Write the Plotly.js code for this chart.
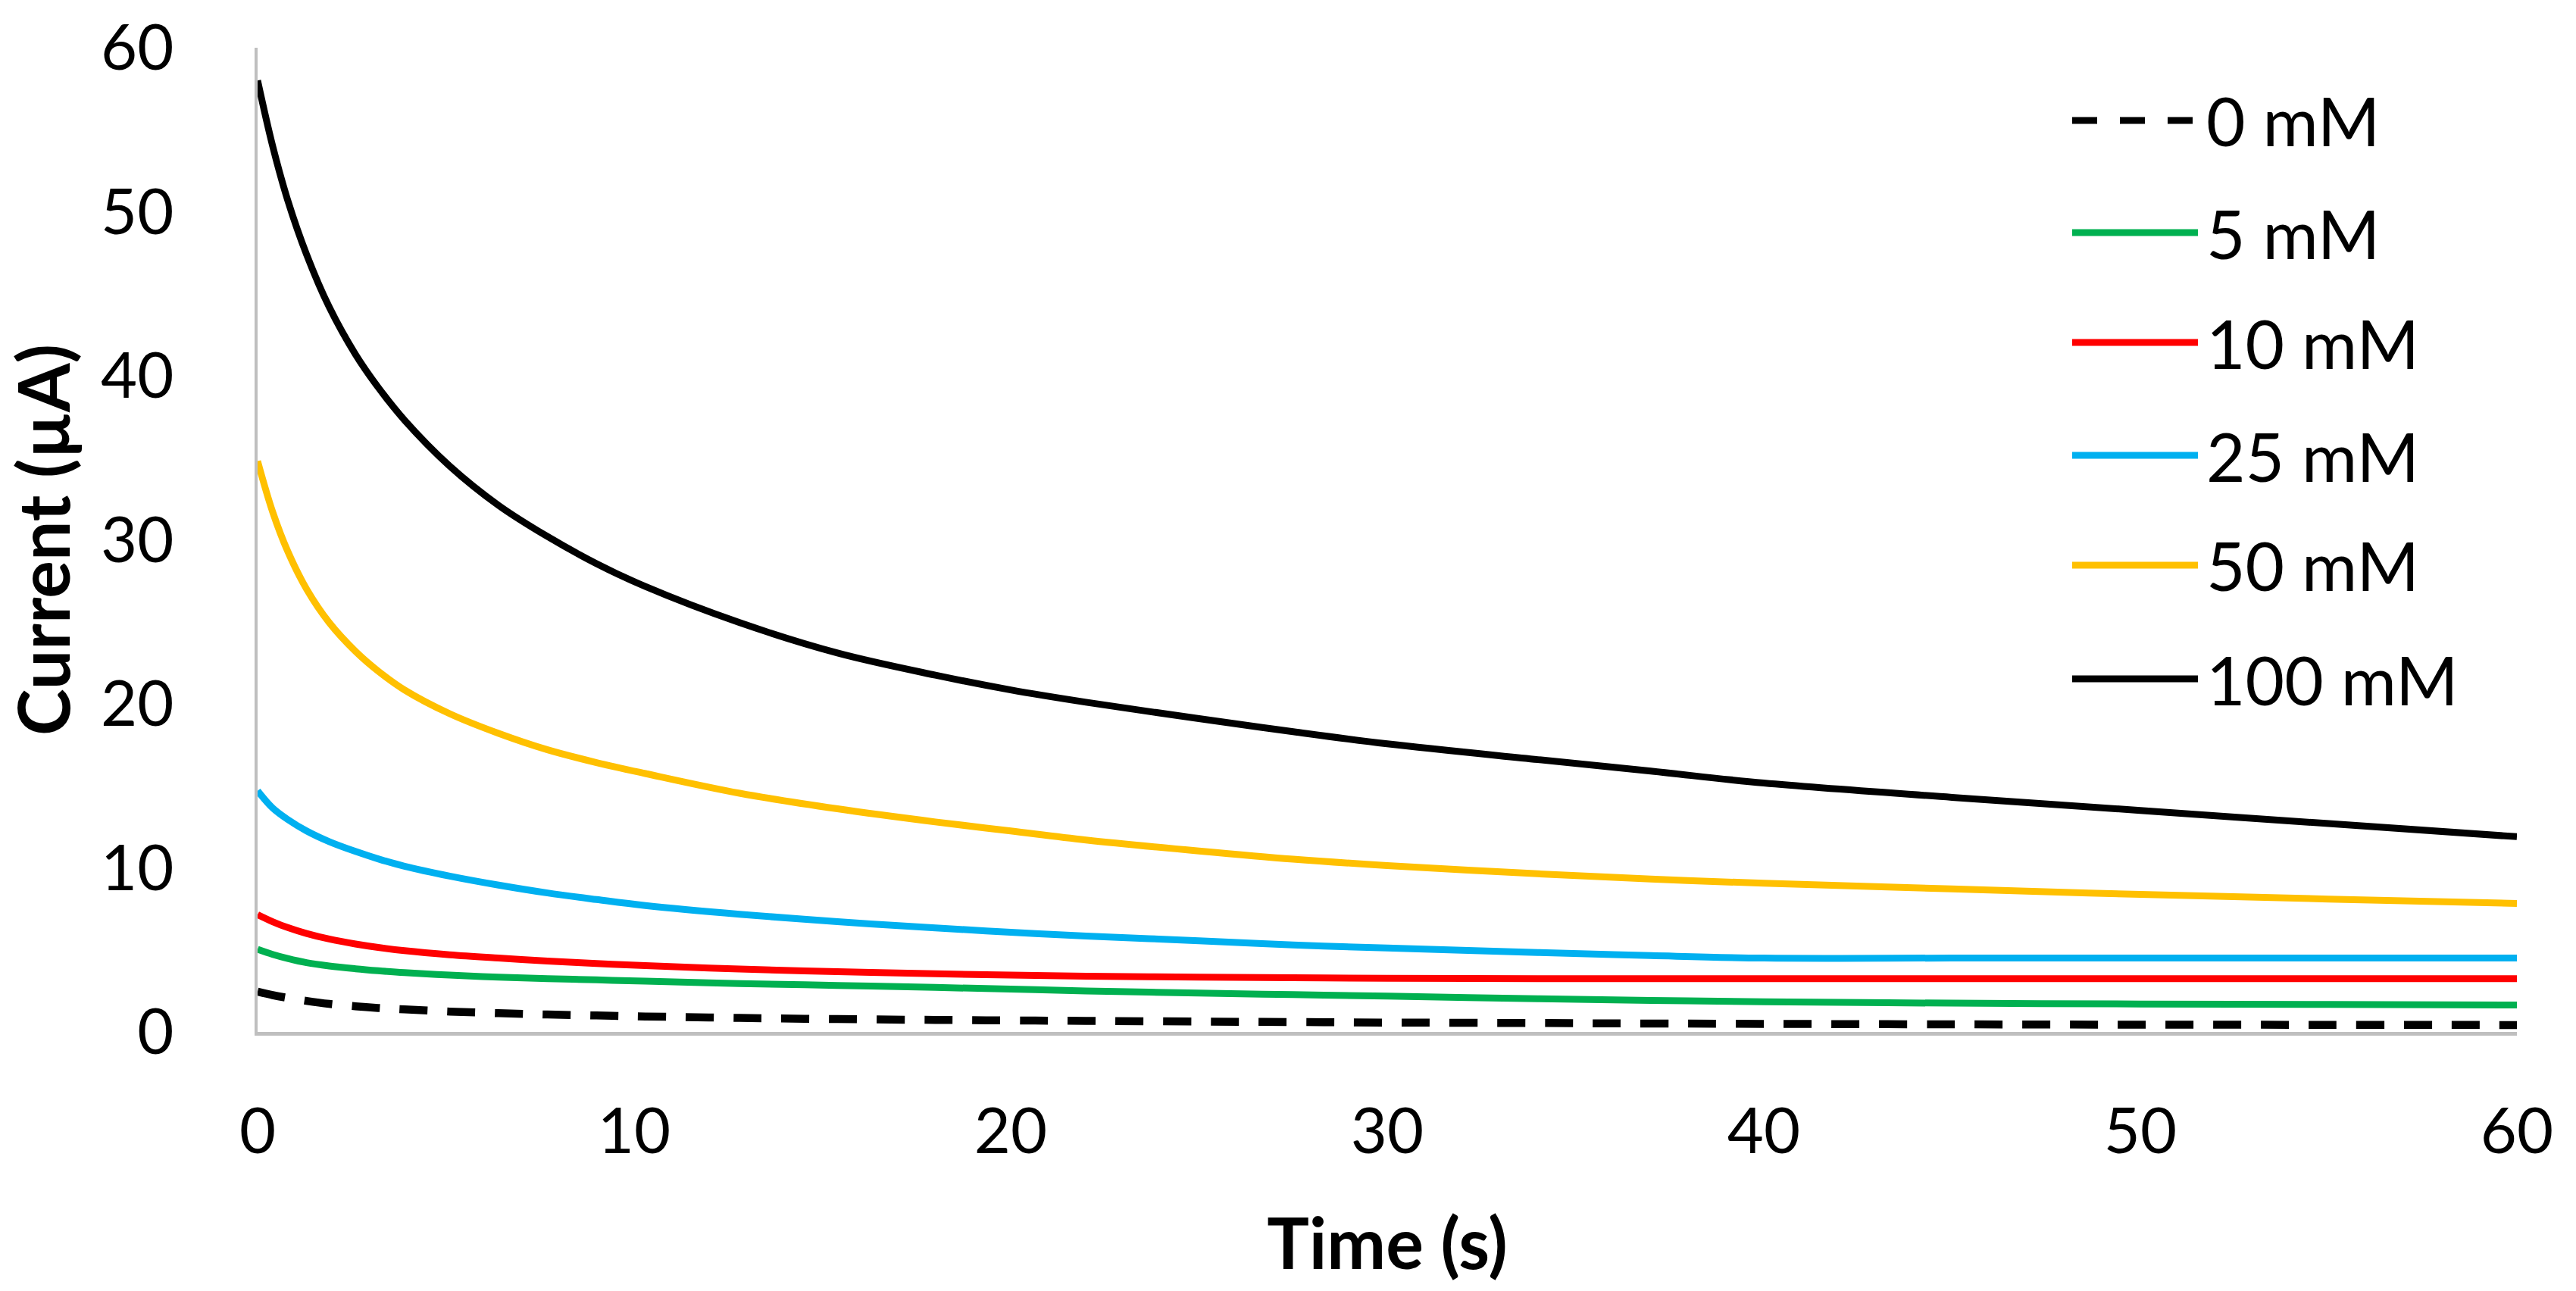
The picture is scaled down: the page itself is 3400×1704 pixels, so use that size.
<!DOCTYPE html>
<html>
<head>
<meta charset="utf-8">
<script src="https://cdn.plot.ly/plotly-3.0.1.min.js"></script>
<style>html,body{margin:0;padding:0;background:#fff;}#chart{width:3400px;height:1704px;}</style>
</head>
<body>
<div id="chart"></div>
<script>
// ---- data ----
var time = [0, 0.4, 0.8, 1.3, 1.9, 2.6, 3.2, 3.9, 5.1, 6.4, 7.7, 9, 10.3, 12.8, 15.4, 18, 20, 22, 25, 27.5, 30, 34, 37, 40, 45, 50, 55, 60];
var seriesNames = ["0 mM", "5 mM", "10 mM", "25 mM", "50 mM", "100 mM"];
var current0mM   = [2.45, 2.24, 2.07, 1.89, 1.71, 1.56, 1.46, 1.37, 1.24, 1.14, 1.06, 1.0, 0.94, 0.85, 0.78, 0.73, 0.7, 0.67, 0.63, 0.6, 0.57, 0.54, 0.51, 0.49, 0.46, 0.44, 0.43, 0.42];
var current5mM   = [5.03, 4.72, 4.47, 4.22, 4.02, 3.85, 3.73, 3.61, 3.46, 3.34, 3.25, 3.17, 3.09, 2.95, 2.83, 2.71, 2.61, 2.5, 2.37, 2.27, 2.18, 2.02, 1.92, 1.84, 1.75, 1.7, 1.67, 1.64];
var current10mM  = [7.15, 6.72, 6.36, 6.0, 5.66, 5.36, 5.15, 4.95, 4.7, 4.5, 4.32, 4.17, 4.04, 3.83, 3.67, 3.54, 3.46, 3.4, 3.34, 3.3, 3.27, 3.25, 3.25, 3.25, 3.25, 3.25, 3.25, 3.25];
var current25mM  = [14.7, 13.65, 12.95, 12.25, 11.6, 11.0, 10.55, 10.1, 9.5, 8.95, 8.47, 8.07, 7.7, 7.17, 6.72, 6.34, 6.07, 5.84, 5.56, 5.3, 5.11, 4.84, 4.65, 4.5, 4.5, 4.5, 4.5, 4.5];
var current50mM  = [34.8, 31.7, 29.3, 27.0, 24.96, 23.2, 22.0, 20.85, 19.4, 18.2, 17.2, 16.42, 15.75, 14.55, 13.6, 12.8, 12.25, 11.7, 11.03, 10.53, 10.14, 9.64, 9.32, 9.06, 8.72, 8.38, 8.1, 7.83];
var current100mM = [58.0, 54.0, 50.7, 47.4, 44.2, 41.3, 39.3, 37.3, 34.5, 32.1, 30.2, 28.55, 27.15, 24.95, 23.1, 21.75, 20.85, 20.1, 19.1, 18.3, 17.56, 16.6, 15.9, 15.17, 14.3, 13.5, 12.7, 11.9];
var xTicks = [0, 10, 20, 30, 40, 50, 60];
var yTicks = [0, 10, 20, 30, 40, 50, 60];

// ---- styles ----
var seriesValues = [current0mM, current5mM, current10mM, current25mM, current50mM, current100mM];
var colors = ["#000000", "#00B050", "#FF0000", "#00B0F0", "#FFC000", "#000000"];
var dashes = ["37px,26px", "solid", "solid", "solid", "solid", "solid"];
var widths = [10.5, 9, 9, 9, 9, 9];

var W = 3400, H = 1704;
var mL = 340, mR = 78, mT = 63, mB = 342;
var plotW = W - mL - mR, plotH = H - mT - mB;
function px2x(p){ return (p - mL) / plotW; }
function px2y(p){ return (H - mB - p) / plotH; }

var traces = seriesNames.map(function(n, i){
  return {
    x: time, y: seriesValues[i], name: n, type: 'scatter', mode: 'lines',
    line: {color: colors[i], width: widths[i], dash: dashes[i], shape: 'spline', smoothing: 1},
    showlegend: false, hoverinfo: 'skip'
  };
});

// custom legend (long sample lines as in the original)
var legY = [159, 307, 452, 601, 746, 896];
var shapes = [], annotations = [];
seriesNames.forEach(function(n, i){
  shapes.push({type: 'line', xref: 'paper', yref: 'paper',
    x0: px2x(2735), x1: px2x(2901), y0: px2y(legY[i]), y1: px2y(legY[i]),
    line: {color: colors[i], width: 9, dash: i === 0 ? '33px,30px' : 'solid'}});
  annotations.push({xref: 'paper', yref: 'paper', x: px2x(2910), y: px2y(legY[i]),
    xanchor: 'left', yanchor: 'middle', text: n, showarrow: false,
    font: {family: 'Lato, sans-serif', size: 89, color: '#000'}});
});

var layout = {
  width: W, height: H,
  margin: {l: mL, r: mR, t: mT, b: mB, pad: 0},
  paper_bgcolor: '#fff', plot_bgcolor: '#fff',
  showlegend: false,
  font: {family: 'Lato, sans-serif', color: '#000'},
  xaxis: {
    range: [0, 60], tickvals: xTicks, ticktext: xTicks.map(String),
    showgrid: false, zeroline: false, showline: true, linecolor: '#BFBFBF', linewidth: 5,
    ticks: '', ticklabelstandoff: 55,
    tickfont: {family: 'Lato, sans-serif', size: 83, color: '#000'},
    title: {text: 'Time (s)', standoff: 73, font: {family: 'Lato, sans-serif', size: 93, color: '#000', weight: 'bold'}},
    fixedrange: true
  },
  yaxis: {
    range: [0, 60], tickvals: yTicks, ticktext: yTicks.map(String),
    showgrid: false, zeroline: false, showline: true, linecolor: '#BFBFBF', linewidth: 4,
    ticks: '', ticklabelstandoff: 90,
    tickfont: {family: 'Lato, sans-serif', size: 83, color: '#000'},
    title: {text: 'Current (µA)', standoff: 20, font: {family: 'Lato, sans-serif', size: 93, color: '#000', weight: 'bold'}},
    fixedrange: true
  },
  shapes: shapes,
  annotations: annotations
};

Plotly.newPlot('chart', traces, layout, {displayModeBar: false, staticPlot: true});
</script>
</body>
</html>
